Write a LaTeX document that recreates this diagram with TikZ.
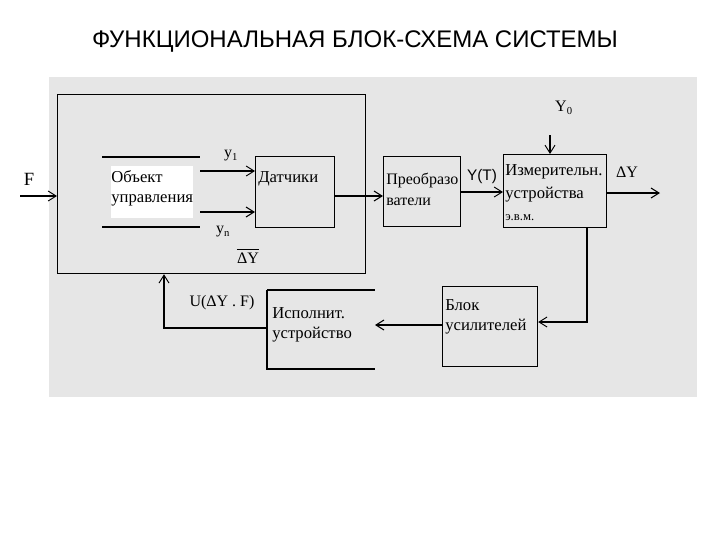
\documentclass[tikz,border=0pt]{standalone}
\usepackage{fontspec}
\setmainfont{Liberation Serif}
\newfontfamily\titlefont{Liberation Sans}
\usetikzlibrary{arrows.meta,calc}
\definecolor{bgray}{HTML}{E6E6E6}
\begin{document}
\begin{tikzpicture}[x=0.75pt,y=-0.75pt,
  box/.style={draw,line width=0.9pt,inner sep=0pt,anchor=north west},
  txt/.style={inner sep=0pt,anchor=west,font=\fontsize{12.5}{14}\selectfont},
  lbl/.style={inner sep=0pt,font=\fontsize{12}{14}\selectfont},
  conn/.style={line width=0.9pt,-{Straight Barb[length=6pt,width=7.5pt,line width=0.7pt]}},
  thickconn/.style={line width=2.2pt,-{Straight Barb[length=6pt,width=7.5pt,line width=0.8pt]}},
  plain/.style={line width=0.9pt}]
\useasboundingbox (0,0) rectangle (720,540);
\node[font=\titlefont\fontsize{18}{20}\selectfont,inner sep=0pt] (title) at (355,42) {ФУНКЦИОНАЛЬНАЯ БЛОК-СХЕМА СИСТЕМЫ};
\fill[bgray] (49,77) rectangle (697,397);
% outer rectangle
\node[box,minimum width=231pt,minimum height=134.25pt] (outer) at (57,94) {};
% object
\node[box,draw=none,fill=white,minimum width=61.5pt,minimum height=39pt] (obj) at (110,165) {};
\node[txt] (objt1) at (111,177) {Объект};
\node[txt] (objt2) at (111,200) {управления};
\coordinate (ol1) at (102,157); \coordinate (or1) at (200,157);
\coordinate (ol2) at (102,227); \coordinate (or2) at (200,227);
\draw[plain] (ol1) -- (or1);
\draw[plain] (ol2) -- (or2);
% sensors
\node[box,minimum width=59.25pt,minimum height=53.25pt] (dat) at (255,156) {};
\node[txt] (datt) at (258,179) {Датчики};
% converters
\node[box,minimum width=57.75pt,minimum height=52.5pt] (preob) at (383,156) {};
\node[txt,font=\fontsize{12}{14}\selectfont] (preobt1) at (386,180) {Преобразо};
\node[txt,font=\fontsize{12}{14}\selectfont] (preobt2) at (386,202) {ватели};
% measuring
\node[box,minimum width=77.25pt,minimum height=54.75pt] (izm) at (503,154) {};
\node[txt] (izmt1) at (505,172) {Измерительн.};
\node[txt] (izmt2) at (505,195) {устройства};
\node[txt,font=\fontsize{9.5}{11}\selectfont] (izmt3) at (505,218) {э.в.м.};
% amplifiers
\node[box,minimum width=71.25pt,minimum height=60pt] (blok) at (442,286) {};
\node[txt] (blokt1) at (445,305) {Блок};
\node[txt] (blokt2) at (445,327) {усилителей};
% actuator (open right side)
\coordinate (ispNE) at (375,290); \coordinate (ispNW) at (267,290);
\coordinate (ispSW) at (267,369); \coordinate (ispSE) at (375,369);
\draw[line width=1.6pt] (ispNW) -- (ispNE);
\draw[plain] (ispNW) -- (ispSW) -- (ispSE);
\node[txt] (ispt1) at (272,313) {Исполнит.};
\node[txt] (ispt2) at (272,335) {устройство};
% connectors
\coordinate (fin) at (20,196);
\draw[conn] (fin) -- (fin -| outer.west);
\coordinate (y1s) at (200,171);
\draw[conn] (y1s) -- (y1s -| dat.west);
\coordinate (yns) at (200,212);
\draw[thickconn] (yns) -- (yns -| dat.west);
\coordinate (dp) at (334,196);
\draw[thickconn] (dp) -- (dp -| preob.west);
\coordinate (pi) at (460,192);
\draw[conn] (pi) -- (pi -| izm.west);
\coordinate (y0s) at (550,135);
\draw[conn] (y0s) -- (y0s |- izm.north);
\coordinate (dyo) at (606,193); \coordinate (dye) at (660,193);
\draw[thickconn] (dyo) -- (dye);
\coordinate (ib) at (587,227); \coordinate (ibc) at (587,322);
\draw[conn] (ib) -- (ibc) -- (ibc -| blok.east);
\coordinate (bi) at (442,325); \coordinate (bie) at (375,325);
\draw[thickconn] (bi) -- (bie);
\coordinate (fb1) at (267,328); \coordinate (fb2) at (164,328);
\draw[conn] (fb1) -- (fb2) -- (fb2 |- outer.south);
% labels
\node[lbl,font=\fontsize{14}{16}\selectfont] (lF) at (29,179) {F};
\node[lbl] (ly1) at (231,156) {y\textsubscript{1}};
\node[lbl] (lyn) at (223,232) {y\textsubscript{n}};
\node[lbl] (ldy1) at (248,258) {ΔY};
\draw[line width=0.8pt] ([yshift=2.5pt]ldy1.north west) -- ([yshift=2.5pt]ldy1.north east);
\node[lbl,font=\titlefont\fontsize{11.5}{13}\selectfont] (lyt) at (482,177) {Y(T)};
\node[lbl] (ly0) at (564,108) {Y\textsubscript{0}};
\node[lbl] (ldy2) at (627,172) {ΔY};
\node[lbl] (lu) at (222,303) {U(ΔY . F)};
\end{tikzpicture}
\end{document}
